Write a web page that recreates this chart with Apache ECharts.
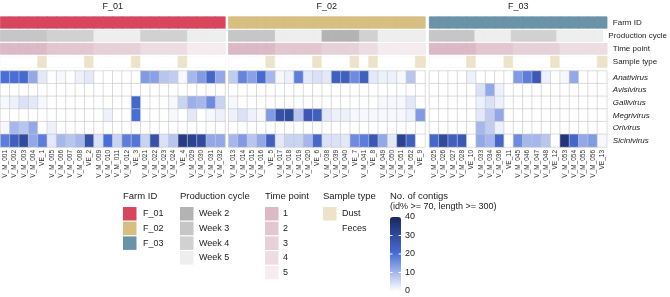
<!DOCTYPE html>
<html>
<head>
<meta charset="utf-8">
<script src="https://cdn.jsdelivr.net/npm/echarts@6/dist/echarts.min.js"></script>
<style>
  html, body { margin: 0; padding: 0; background: #fff; }
  #chart { width: 670px; height: 297px; }
</style>
</head>
<body>
<div id="chart"></div>
<script>
const farms = ['F_01', 'F_02', 'F_03']
const samplesF01 = ['V_M_001', 'V_M_002', 'V_M_003', 'V_M_004', 'VE_1', 'V_M_005', 'V_M_006', 'V_M_007', 'V_M_008', 'VE_2',
  'V_M_009', 'V_M_010', 'V_M_011', 'V_M_012', 'VE_3', 'V_M_021', 'V_M_022', 'V_M_023', 'V_M_024', 'VE_4',
  'V_M_029', 'V_M_030', 'V_M_031', 'V_M_032']
const samplesF02 = ['V_M_013', 'V_M_014', 'V_M_015', 'V_M_016', 'VE_5', 'V_M_017', 'V_M_018', 'V_M_019', 'V_M_020', 'VE_6',
  'V_M_038', 'V_M_039', 'V_M_040', 'VE_7', 'V_M_041', 'VE_8', 'V_M_049', 'V_M_050', 'V_M_051', 'V_M_052', 'VE_9']
const samplesF03 = ['V_M_025', 'V_M_026', 'V_M_027', 'V_M_028', 'VE_10', 'V_M_033', 'V_M_034', 'V_M_036', 'VE_11',
  'V_M_045', 'V_M_046', 'V_M_047', 'V_M_048', 'VE_12', 'V_M_053', 'V_M_054', 'V_M_055', 'V_M_056', 'VE_13']

// production cycle (week) and time point per sample
const cycleF01 = [3, 3, 3, 3, 3, 4, 4, 4, 4, 4, 5, 5, 5, 5, 5, 4, 4, 4, 4, 4, 5, 5, 5, 5]
const cycleF02 = [3, 3, 3, 3, 3, 5, 5, 5, 5, 5, 2, 2, 2, 2, 4, 4, 5, 5, 5, 5, 5]
const cycleF03 = [3, 3, 3, 3, 3, 5, 5, 5, 5, 4, 4, 4, 4, 4, 5, 5, 5, 5, 5]
const timeF01 = [1, 1, 1, 1, 1, 2, 2, 2, 2, 2, 3, 3, 3, 3, 3, 4, 4, 4, 4, 4, 5, 5, 5, 5]
const timeF02 = [1, 1, 1, 1, 1, 2, 2, 2, 2, 2, 3, 3, 3, 3, 4, 4, 5, 5, 5, 5, 5]
const timeF03 = [1, 1, 1, 1, 1, 2, 2, 2, 2, 3, 3, 3, 3, 3, 4, 4, 4, 4, 4]

const viruses = ['Anativirus', 'Avisivirus', 'Gallivirus', 'Megrivirus', 'Orivirus', 'Sicinivirus']
// no. of contigs, samples in order F_01 | F_02 | F_03
const anativirus = [20, 20, 21, 12, 3, 0, 1, 0, 2, 3, 0, 0, 0, 0, 0, 14, 13, 8, 7, 1, 10, 14, 22, 12,
  7, 17, 13, 21, 10, 1, 2, 18, 3, 4, 3, 24, 24, 16, 24, 3, 2, 2, 1, 8, 0,
  0, 0, 0, 0, 2, 0, 0, 0, 0, 14, 18, 26, 2, 0, 1, 12, 0, 0, 0]
const avisivirus = [0, 0, 0, 0, 0, 0, 0, 0, 0, 0, 0, 0, 0, 0, 0, 0, 0, 0, 0, 0, 0, 0, 0, 0,
  0, 0, 0, 0, 0, 0, 0, 0, 0, 0, 0, 0, 0, 0, 0, 0, 0, 0, 0, 0, 0,
  0, 0, 0, 0, 0, 4, 12, 2, 0, 0, 0, 0, 0, 0, 0, 0, 0, 0, 0]
const gallivirus = [1, 2, 4, 3, 1, 0, 0, 0, 0, 0, 0, 0, 0, 0, 22, 0, 0, 0, 1, 6, 11, 10, 16, 6,
  1, 0, 0, 0, 0, 0, 0, 0, 0, 0, 0, 0, 0, 0, 0, 0, 1, 1, 1, 3, 0,
  0, 0, 0, 0, 0, 2, 4, 2, 0, 0, 0, 0, 0, 0, 0, 0, 0, 0, 0]
const megrivirus = [0, 0, 0, 0, 0, 0, 0, 0, 0, 0, 0, 2, 0, 0, 20, 0, 0, 0, 1, 0, 3, 0, 1, 2,
  2, 4, 2, 1, 14, 28, 30, 8, 26, 24, 3, 2, 2, 1, 1, 1, 1, 1, 1, 2, 14,
  0, 0, 0, 0, 0, 3, 7, 12, 0, 0, 0, 0, 0, 0, 0, 0, 0, 0, 0]
const orivirus = [1, 10, 8, 12, 0, 2, 0, 0, 0, 0, 0, 0, 0, 0, 0, 0, 0, 0, 0, 0, 0, 0, 0, 0,
  0, 0, 0, 0, 0, 0, 0, 0, 0, 0, 0, 0, 0, 0, 0, 0, 0, 0, 0, 0, 0,
  0, 0, 0, 0, 0, 10, 7, 2, 0, 0, 0, 0, 0, 0, 0, 0, 0, 0, 0]
const sicinivirus = [18, 24, 30, 12, 18, 3, 10, 8, 10, 28, 4, 20, 6, 18, 19, 6, 28, 4, 8, 34, 32, 30, 12, 12,
  10, 14, 8, 12, 24, 3, 6, 6, 10, 22, 4, 4, 3, 16, 18, 26, 12, 3, 32, 24, 0,
  22, 30, 24, 26, 0, 12, 10, 22, 0, 16, 10, 10, 8, 0, 36, 22, 12, 14, 1]

const weekLabels = ['Week 2', 'Week 3', 'Week 4', 'Week 5']
const timeLabels = ['1', '2', '3', '4', '5']
const typeLabels = ['Dust', 'Feces']
const contigTicks = [0, 10, 20, 30, 40]

const farmColors = { F_01: '#d8465e', F_02: '#d6bf80', F_03: '#6a93a8' }
const cycleColors = { 2: '#b3b3b3', 3: '#c6c6c6', 4: '#d1d1d1', 5: '#eeeeee' }
const timeColors = { 1: '#dcb9c6', 2: '#e2c6d0', 3: '#e7d1d9', 4: '#eddde3', 5: '#f5ecef' }
const typeColors = { Dust: '#ece3c8', Feces: '#ffffff' }

const samples = [samplesF01, samplesF02, samplesF03]
const cycles = [cycleF01, cycleF02, cycleF03]
const times = [timeF01, timeF02, timeF03]
const counts = [anativirus, avisivirus, gallivirus, megrivirus, orivirus, sicinivirus]
const offsets = [0, samplesF01.length, samplesF01.length + samplesF02.length]

const gridX = [
  { left: 0.5, width: 224.5 },
  { left: 228.7, width: 196.3 },
  { left: 429.5, width: 177.3 }
]
const annRows = [
  { name: 'Farm ID', top: 17, height: 11 },
  { name: 'Production cycle', top: 30.5, height: 10.5 },
  { name: 'Time point', top: 43.5, height: 10.5 },
  { name: 'Sample type', top: 56.5, height: 10.5 }
]
const heatTop = 71
const heatHeight = 76

function sampleType(s) {
  return s.indexOf('VE') === 0 ? 'Dust' : 'Feces'
}
function annColor(r, f, i, s) {
  if (r === 0) return farmColors[farms[f]]
  if (r === 1) return cycleColors[cycles[f][i]]
  if (r === 2) return timeColors[times[f][i]]
  return typeColors[sampleType(s)]
}

const grid = []
const xAxis = []
const yAxis = []
const series = []
const heatIndex = []

samples.forEach((names, f) => {
  const off = offsets[f]
  annRows.forEach((row, r) => {
    const k = grid.length
    grid.push({
      left: gridX[f].left, width: gridX[f].width, top: row.top, height: row.height,
      show: true, borderColor: '#d6d6d6', borderWidth: 0.7
    })
    xAxis.push({ type: 'category', gridIndex: k, data: names, show: false })
    yAxis.push({
      type: 'category', gridIndex: k, data: [row.name], position: 'right',
      axisLine: { show: false }, axisTick: { show: false },
      axisLabel: { show: f === 2, fontSize: 8, color: '#222', margin: 6 }
    })
    series.push({
      type: 'heatmap', xAxisIndex: k, yAxisIndex: k, silent: true,
      data: names.map((s, i) => {
        const c = annColor(r, f, i, s)
        return { value: [i, 0, 1], itemStyle: { color: c, borderColor: c, borderWidth: 0.6 } }
      })
    })
  })

  const k = grid.length
  grid.push({ left: gridX[f].left, width: gridX[f].width, top: heatTop, height: heatHeight })
  xAxis.push({
    type: 'category', gridIndex: k, data: names,
    axisLine: { show: false }, axisTick: { show: false },
    axisLabel: { interval: 0, rotate: 90, fontSize: 6.5, color: '#333', margin: 3 }
  })
  yAxis.push({
    type: 'category', gridIndex: k, data: viruses, inverse: true, position: 'right',
    axisLine: { show: false }, axisTick: { show: false },
    axisLabel: { show: f === 2, fontSize: 8, fontStyle: 'italic', color: '#222', margin: 6 }
  })
  const data = []
  counts.forEach((arr, v) => {
    names.forEach((s, i) => data.push([i, v, arr[off + i]]))
  })
  heatIndex.push(series.length)
  series.push({
    type: 'heatmap', xAxisIndex: k, yAxisIndex: k, silent: true, data: data,
    itemStyle: { borderColor: '#c8c8c8', borderWidth: 0.6 }
  })
})

// legends
const graphic = []
function text(x, y, t, size) {
  graphic.push({
    type: 'text', x: x, y: y, z: 100, silent: true,
    style: { text: t, fontSize: size || 9, fontFamily: 'Liberation Sans', fill: '#222',
      verticalAlign: 'middle', textVerticalAlign: 'middle' }
  })
}
function swatch(x, y, color) {
  graphic.push({
    type: 'rect', x: x, y: y, z: 100, silent: true,
    shape: { width: 13.5, height: 13.5 }, style: { fill: color }
  })
}
farms.forEach((f, k) => {
  graphic.push({
    type: 'text', x: gridX[k].left + gridX[k].width / 2, y: 7, z: 100, silent: true,
    style: { text: f, fontSize: 9, fontFamily: 'Liberation Sans', fill: '#222',
      align: 'center', textAlign: 'center', verticalAlign: 'middle', textVerticalAlign: 'middle' }
  })
})
const legTop = 207
const legStep = 14.7
text(123, 196, 'Farm ID', 9.5)
farms.forEach((f, i) => { swatch(123, legTop + i * legStep, farmColors[f]); text(143, legTop + i * legStep + 6.8, f) })
text(180, 196, 'Production cycle', 9.5)
weekLabels.forEach((w, i) => { swatch(180, legTop + i * legStep, cycleColors[i + 2]); text(199, legTop + i * legStep + 6.8, w) })
text(265, 196, 'Time point', 9.5)
timeLabels.forEach((t, i) => { swatch(265, legTop + i * legStep, timeColors[i + 1]); text(283, legTop + i * legStep + 6.8, t) })
text(323, 196, 'Sample type', 9.5)
typeLabels.forEach((t, i) => { swatch(323, legTop + i * legStep, typeColors[t]); text(342, legTop + i * legStep + 6.8, t) })
text(390, 196, 'No. of contigs', 9.5)
text(390, 207, '(id% >= 70, length >= 300)')

const barLeft = 390
const barTop = 217
const barW = 11
const barH = 74
contigTicks.forEach(v => {
  const y = barTop + (40 - v) / 40 * barH
  text(barLeft + barW + 4, y, String(v))
  if (v > 0 && v < 40) {
    graphic.push({ type: 'rect', x: barLeft, y: y - 0.5, z: 100, silent: true, shape: { width: 2.5, height: 1 }, style: { fill: '#fff' } })
    graphic.push({ type: 'rect', x: barLeft + barW - 2.5, y: y - 0.5, z: 100, silent: true, shape: { width: 2.5, height: 1 }, style: { fill: '#fff' } })
  }
})

const chart = echarts.init(document.getElementById('chart'))
chart.setOption({
  animation: false,
  textStyle: { fontFamily: 'Liberation Sans' },
  grid: grid,
  xAxis: xAxis,
  yAxis: yAxis,
  visualMap: {
    type: 'continuous',
    min: 0,
    max: 40,
    seriesIndex: heatIndex,
    calculable: false,
    left: barLeft,
    top: barTop,
    padding: 0,
    itemWidth: barW,
    itemHeight: barH,
    inRange: { color: ['#ffffff', '#4a6ed8', '#172760'] }
  },
  graphic: graphic,
  series: series
})
</script>
</body>
</html>
